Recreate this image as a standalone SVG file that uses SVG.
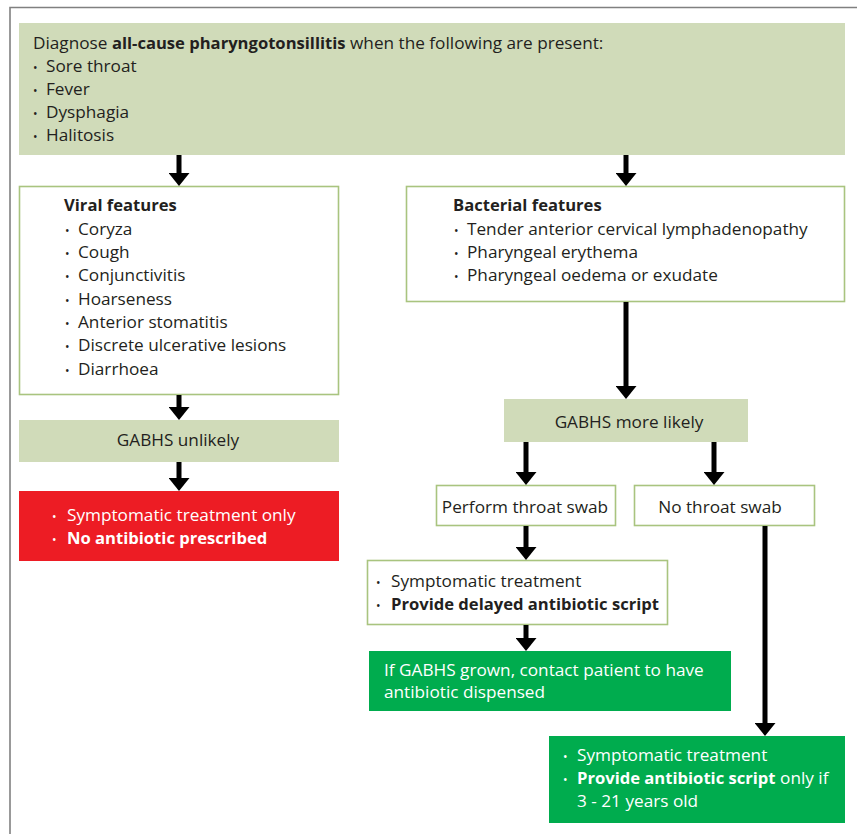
<svg xmlns="http://www.w3.org/2000/svg" width="857" height="834" viewBox="0 0 857 834">
<style>
text{font-family:"Open Sans","Liberation Sans",sans-serif;font-size:17.2px;fill:#231f20}
.b{font-weight:bold;font-size:16.6px}
.w{fill:#fff}
.c{text-anchor:middle}
.bu{font-size:12px}
.lg{fill:#d0dbb9}
.ob{fill:#fff;stroke:#a9c47f;stroke-width:1.6}
.red{fill:#ed1c24}
.gr{fill:#00ac4e}
.conn line{stroke:#000;stroke-width:5;marker-end:url(#ah)}
</style>
<defs>
<marker id="ah" markerUnits="userSpaceOnUse" markerWidth="13" markerHeight="21" viewBox="0 0 13 21" refX="0" refY="10.5" orient="auto">
<path d="M0,0 L13,10.5 L0,21 z" fill="#000"/>
</marker>
</defs>
<rect width="857" height="834" fill="#fff"/>
<path d="M10,834 V7.5 H857" fill="none" stroke="#808080" stroke-width="1.6"/>

<g id="top">
<rect class="lg" x="19" y="23" width="826" height="132"/>
<text x="33" y="49">Diagnose <tspan class="b">all-cause pharyngotonsillitis</tspan> when the following are present:</text>
<text x="33" y="72"><tspan class="bu">•</tspan><tspan x="46">Sore throat</tspan></text>
<text x="33" y="95"><tspan class="bu">•</tspan><tspan x="46">Fever</tspan></text>
<text x="33" y="118"><tspan class="bu">•</tspan><tspan x="46">Dysphagia</tspan></text>
<text x="33" y="141"><tspan class="bu">•</tspan><tspan x="46">Halitosis</tspan></text>
</g>

<g id="viral">
<rect class="ob" x="19.5" y="186.5" width="319" height="208"/>
<text class="b" x="64" y="211">Viral features</text>
<text x="65" y="235"><tspan class="bu">•</tspan><tspan x="78">Coryza</tspan></text>
<text x="65" y="258"><tspan class="bu">•</tspan><tspan x="78">Cough</tspan></text>
<text x="65" y="281"><tspan class="bu">•</tspan><tspan x="78">Conjunctivitis</tspan></text>
<text x="65" y="305"><tspan class="bu">•</tspan><tspan x="78">Hoarseness</tspan></text>
<text x="65" y="328"><tspan class="bu">•</tspan><tspan x="78">Anterior stomatitis</tspan></text>
<text x="65" y="351"><tspan class="bu">•</tspan><tspan x="78">Discrete ulcerative lesions</tspan></text>
<text x="65" y="375"><tspan class="bu">•</tspan><tspan x="78">Diarrhoea</tspan></text>
</g>

<g id="bacterial">
<rect class="ob" x="406.5" y="186.5" width="438" height="115"/>
<text class="b" x="453" y="211">Bacterial features</text>
<text x="454" y="235"><tspan class="bu">•</tspan><tspan x="467">Tender anterior cervical lymphadenopathy</tspan></text>
<text x="454" y="258"><tspan class="bu">•</tspan><tspan x="467">Pharyngeal erythema</tspan></text>
<text x="454" y="281"><tspan class="bu">•</tspan><tspan x="467">Pharyngeal oedema or exudate</tspan></text>
</g>

<g id="unlikely">
<rect class="lg" x="19" y="420" width="320" height="42"/>
<text class="c" x="178" y="446">GABHS unlikely</text>
</g>

<g id="noabx">
<rect class="red" x="19" y="491" width="320" height="70"/>
<text class="w" x="52" y="521"><tspan class="bu w">•</tspan><tspan x="67">Symptomatic treatment only</tspan></text>
<text class="w" x="52" y="544"><tspan class="bu w">•</tspan><tspan class="b" x="67">No antibiotic prescribed</tspan></text>
</g>

<g id="morelikely">
<rect class="lg" x="504" y="399" width="244" height="43"/>
<text class="c" x="629" y="428">GABHS more likely</text>
</g>

<g id="swab">
<rect class="ob" x="436.5" y="485.5" width="179" height="40"/>
<text class="c" x="525" y="513">Perform throat swab</text>
</g>

<g id="noswab">
<rect class="ob" x="634.5" y="485.5" width="180" height="40"/>
<text class="c" x="720" y="513">No throat swab</text>
</g>

<g id="delayed">
<rect class="ob" x="367.5" y="560.5" width="300" height="64"/>
<text x="376" y="587"><tspan class="bu">•</tspan><tspan x="391">Symptomatic treatment</tspan></text>
<text x="376" y="610"><tspan class="bu">•</tspan><tspan class="b" x="391">Provide delayed antibiotic script</tspan></text>
</g>

<g id="grown">
<rect class="gr" x="369" y="651" width="362" height="60"/>
<text class="w" x="384" y="676">If GABHS grown, contact patient to have</text>
<text class="w" x="384" y="698">antibiotic dispensed</text>
</g>

<g id="script">
<rect class="gr" x="549" y="736" width="296" height="87"/>
<text class="w" x="563" y="761"><tspan class="bu w">•</tspan><tspan x="577">Symptomatic treatment</tspan></text>
<text class="w" x="563" y="784"><tspan class="bu w">•</tspan><tspan class="b" x="577">Provide antibiotic script</tspan> only if</text>
<text class="w" x="577" y="807">3 - 21 years old</text>
</g>

<g class="conn" id="connectors">
<line x1="179" y1="155" x2="179" y2="173"/>
<line x1="626" y1="155" x2="626" y2="173"/>
<line x1="179" y1="395" x2="179" y2="407"/>
<line x1="179" y1="462" x2="179" y2="478"/>
<line x1="626" y1="302" x2="626" y2="386"/>
<line x1="526" y1="442" x2="526" y2="472"/>
<line x1="714" y1="442" x2="714" y2="472"/>
<line x1="526" y1="526" x2="526" y2="547"/>
<line x1="526" y1="625" x2="526" y2="638"/>
<line x1="765" y1="526" x2="765" y2="723"/>
</g>
</svg>
